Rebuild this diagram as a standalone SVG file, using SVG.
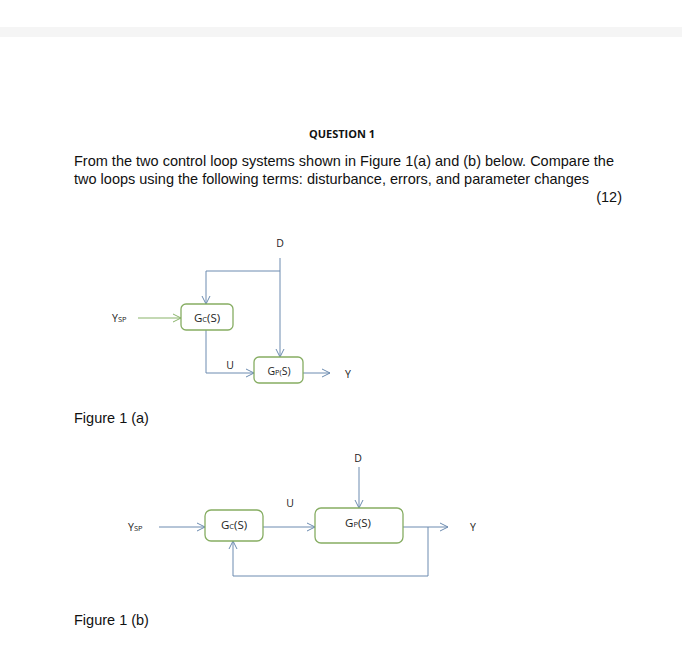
<svg xmlns="http://www.w3.org/2000/svg" width="682" height="650" viewBox="0 0 682 650">
<defs>
<marker id="arr" markerWidth="10" markerHeight="10" refX="9" refY="5" orient="auto" markerUnits="userSpaceOnUse">
<path d="M1,1 L9,5 L1,9" fill="none" stroke="#6c8bb0" stroke-width="1"/>
</marker>
<marker id="arrg" markerWidth="10" markerHeight="10" refX="9" refY="5" orient="auto" markerUnits="userSpaceOnUse">
<path d="M1,1 L9,5 L1,9" fill="none" stroke="#8ab46a" stroke-width="1"/>
</marker>
</defs>
<style>
.box{fill:#fff;stroke:#86ad62;stroke-width:1.3}
.ln{fill:none;stroke:#6c8bb0;stroke-width:1;marker-end:url(#arr)}
.lng{fill:none;stroke:#8ab46a;stroke-width:1.2;marker-end:url(#arrg)}
.lbl{font-family:"Open Sans","Noto Sans",sans-serif;font-size:10.5px;fill:#222}
.big{font-family:"Open Sans","Noto Sans",sans-serif;font-size:11.5px;fill:#222}
.sub{font-size:7.5px}
.txt{font-family:"Liberation Sans",Arial,sans-serif;font-size:14.5px;fill:#111}
.hd{font-family:"Open Sans","Noto Sans",sans-serif;font-size:11px;font-weight:bold;fill:#111}
</style>
<rect x="0" y="0" width="682" height="650" fill="#fff"/>
<rect x="0" y="27" width="682" height="10" fill="#f5f5f5"/>
<text class="hd" x="342" y="138" text-anchor="middle">QUESTION 1</text>
<text class="txt" x="74" y="166">From the two control loop systems shown in Figure 1(a) and (b) below. Compare the</text>
<text class="txt" x="74" y="184">two loops using the following terms: disturbance, errors, and parameter changes</text>
<text class="txt" x="622" y="202" text-anchor="end">(12)</text>
<text class="txt" x="74" y="423">Figure 1 (a)</text>
<text class="txt" x="74" y="625">Figure 1 (b)</text>

<g id="connectors">
<path class="ln" d="M280,258 V357"/>
<path class="ln" d="M280,271 H206 V304"/>
<path class="lng" d="M138,318 H181"/>
<path class="ln" d="M206,330 V373 H254"/>
<path class="ln" d="M303,373 H330"/>
<path class="ln" d="M359,467 V508"/>
<path class="ln" d="M159,527 H205"/>
<path class="ln" d="M263,527 H315"/>
<path class="ln" d="M403,527 H448"/>
<path class="ln" d="M428,527 V576 H233 V541"/>
</g>

<g id="a-D"><text class="lbl" x="280" y="247" text-anchor="middle">D</text></g>
<g id="a-Ysp"><text class="lbl" x="112" y="322">Y<tspan class="sub">SP</tspan></text></g>
<g id="a-Gc"><rect class="box" x="181" y="304" width="52" height="26" rx="5"/><text class="big" x="207" y="321.5" text-anchor="middle">G<tspan class="sub">C</tspan>(S)</text></g>
<g id="a-U"><text class="lbl" x="230" y="369" text-anchor="middle">U</text></g>
<g id="a-Gp"><rect class="box" x="254" y="357" width="49" height="26" rx="5"/><text class="lbl" x="279" y="374.5" text-anchor="middle">G<tspan class="sub">P(</tspan>S)</text></g>
<g id="a-Y"><text class="lbl" x="345" y="378">Y</text></g>

<g id="b-D"><text class="lbl" x="358" y="462" text-anchor="middle">D</text></g>
<g id="b-Ysp"><text class="lbl" x="128" y="531">Y<tspan class="sub">SP</tspan></text></g>
<g id="b-Gc"><rect class="box" x="205" y="510" width="58" height="31" rx="6"/><text class="big" x="234" y="529" text-anchor="middle">G<tspan class="sub">C</tspan>(S)</text></g>
<g id="b-U"><text class="lbl" x="290" y="507" text-anchor="middle">U</text></g>
<g id="b-Gp"><rect class="box" x="315" y="508" width="88" height="35" rx="6"/><text class="big" x="358" y="527" text-anchor="middle">G<tspan class="sub">P</tspan>(S)</text></g>
<g id="b-Y"><text class="lbl" x="470" y="531">Y</text></g>
</svg>
